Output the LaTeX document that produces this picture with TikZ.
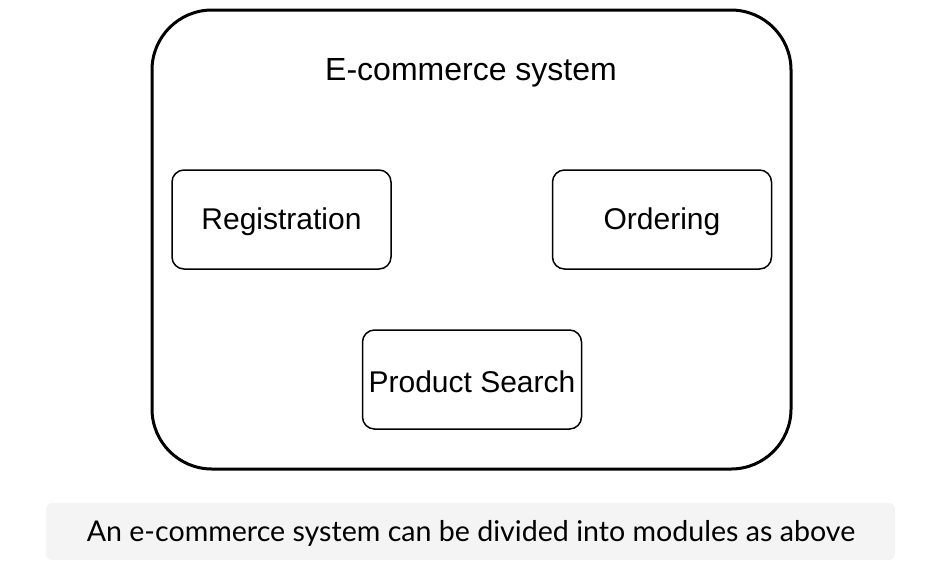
\documentclass[tikz,border=0pt]{standalone}
\usepackage{fontspec}
\setmainfont{Liberation Sans}
\newfontfamily\captionfont{Lato}
\usepackage{xcolor}
\definecolor{capgray}{HTML}{F4F4F4}

\begin{document}
\begin{tikzpicture}[x=1pt, y=-1pt,
        module/.style = {draw, line width=1.5pt, rounded corners=12pt, minimum width=219pt, minimum height=99pt},
        label/.style = {font=\fontsize{30}{34}\selectfont},
        system/.style = {draw, line width=3pt, rounded corners=60pt, minimum width=639pt, minimum height=459pt},
        caption/.style = {fill=capgray, rounded corners=6pt, minimum width=849pt, minimum height=57pt},
        captext/.style = {font=\captionfont\fontsize{28.6}{32}\selectfont}]
        \useasboundingbox (0,0) rectangle (952,566);
        \node[system] (sys) at (471.5,239.5) {};
        \node[font=\fontsize{32}{36}\selectfont] (title) at (471,73) {E-commerce system};
        \node[module] (reg) at (281.5,219.5) {};
        \node[module] (ord) at (662,219.5) {};
        \node[module] (search) at (472,379.5) {};
        \node[label] (regtext) at (281.5,222) {Registration};
        \node[label] (ordtext) at (662,222) {Ordering};
        \node[label] (searchtext) at (472,382) {Product Search};

        \node[caption] (cap) at (470.5,531.5) {};
        \node[captext] (captext) at (471,533) {An e-commerce system can be divided into modules as above};
    \end{tikzpicture}
\end{document}
